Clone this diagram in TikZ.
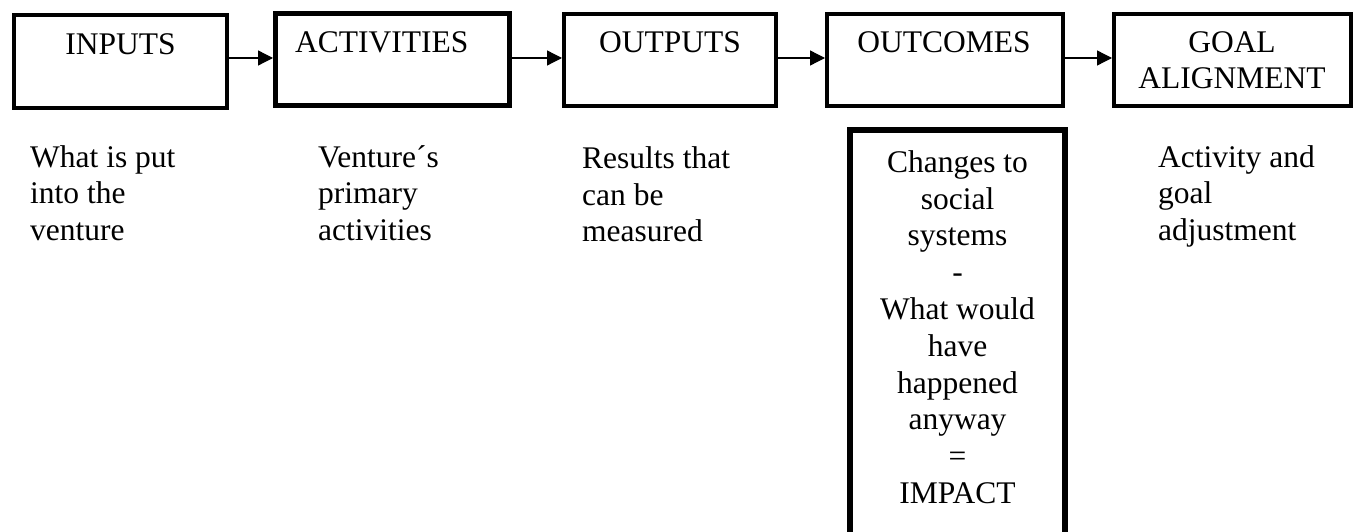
\documentclass[tikz,border=0pt]{standalone}
\usepackage{fontspec}
\setmainfont{Liberation Serif}
\usetikzlibrary{arrows.meta}
\begin{document}
\begin{tikzpicture}[x=1pt,y=-1pt,
  stagebox/.style={draw=black, rectangle, inner sep=0pt, line width=4pt},
  txt/.style={inner sep=0pt, font=\fontsize{31.5}{36.8}\selectfont},
  flow/.style={line width=1.3pt, -{Triangle[length=15pt,width=15pt]}}]
% page frame
\clip (0,0) rectangle (1358,532);
\fill[white] (0,0) rectangle (1358,532);

% stage boxes
\node[stagebox, minimum width=213pt, minimum height=93pt] (inputs) at (120.5,61.5) {};
\node[stagebox, line width=5pt, minimum width=234pt, minimum height=92pt] (activities) at (392.5,59.5) {};
\node[stagebox, minimum width=212pt, minimum height=92pt] (outputs) at (670,60) {};
\node[stagebox, minimum width=236pt, minimum height=92pt] (outcomes) at (945,60) {};
\node[stagebox, minimum width=237pt, minimum height=92pt] (goal) at (1232.5,60) {};
\node[stagebox, line width=6pt, minimum width=215pt, minimum height=430pt] (impact) at (957.5,345) {};

% box titles
\node[txt, anchor=base] (inputs-t) at (120.5,55) {INPUTS};
\node[txt, anchor=base west] (activities-t) at (295,53) {ACTIVITIES};
\node[txt, anchor=base] (outputs-t) at (670,53) {OUTPUTS};
\node[txt, anchor=base] (outcomes-t) at (944,53) {OUTCOMES};
\node[txt, anchor=north, align=center] (goal-t) at (1232,52-25.76) {\strut GOAL\\ALIGNMENT};

% arrows between stages
\coordinate (row) at (0,58);
\draw[flow] (inputs.east |- row) -- (activities.west |- row);
\draw[flow] (activities.east |- row) -- (outputs.west |- row);
\draw[flow] (outputs.east |- row) -- (outcomes.west |- row);
\draw[flow] (outcomes.east |- row) -- (goal.west |- row);

% descriptions
\node[txt, anchor=north west, align=left] (inputs-d) at (30,167-25.76) {\strut What is put\\into the\\venture};
\node[txt, anchor=north west, align=left] (activities-d) at (318,167-25.76) {\strut Venture´s\\primary\\activities};
\node[txt, anchor=north west, align=left] (outputs-d) at (582,168-25.76) {\strut Results that\\can be\\measured};
\node[txt, anchor=north west, align=left] (goal-d) at (1158,167-25.76) {\strut Activity and\\goal\\adjustment};
\node[txt, anchor=north, align=center] (impact-d) at (957.5,172-25.76) {\strut Changes to\\social\\systems\\-\\What would\\have\\happened\\anyway\\=\\IMPACT};
\end{tikzpicture}
\end{document}
